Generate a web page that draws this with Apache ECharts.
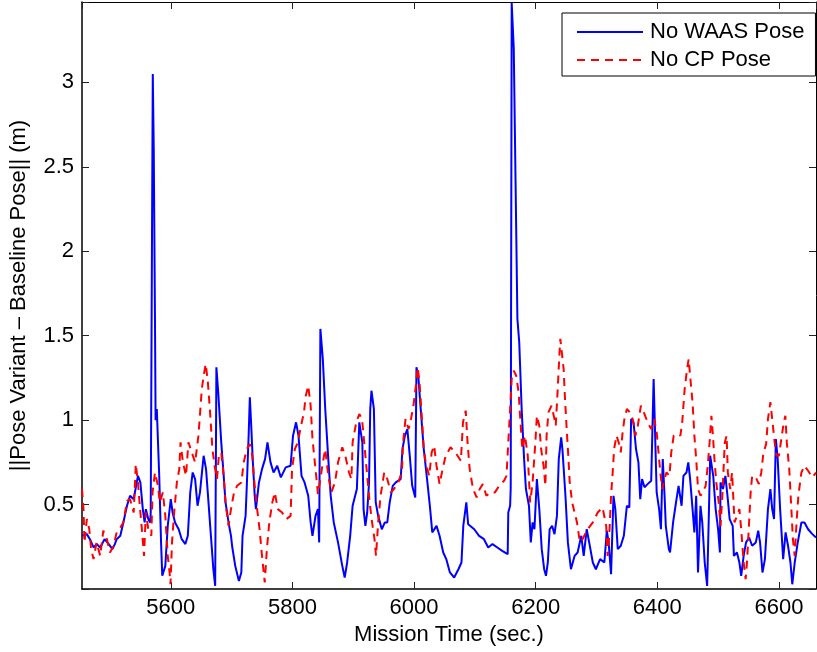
<!DOCTYPE html>
<html>
<head>
<meta charset="utf-8">
<script src="https://cdn.jsdelivr.net/npm/echarts@6/dist/echarts.min.js"></script>
<style>
html,body{margin:0;padding:0;background:#fff;}
#chart{width:817px;height:652px;}
</style>
</head>
<body>
<div id="chart"></div>
<script>
var seriesNames = ['No WAAS Pose', 'No CP Pose'];
var xTitle = 'Mission Time (sec.)';
var yTitle = '||Pose Variant \u2013 Baseline Pose|| (m)';
var xTicks = [5600, 5800, 6000, 6200, 6400, 6600];
var yTicks = [0.5, 1, 1.5, 2, 2.5, 3];

var waasTime = [5454,5462,5467,5473,5478,5484,5491,5498,5504,5508,5511,5517,5522,5528,5533,5539,5546,5550,5554,5557,5559,5563,5566,5567,5569,5570.4,5572,5574,5575,5577,5581,5584,5586,5591,5595,5600,5603,5607,5613,5618,5624,5628,5632,5636,5640,5644,5648,5654,5658,5662,5666,5670,5673,5675,5678,5683,5687,5690,5695,5699,5701,5706,5712,5716,5718,5723,5725,5728,5730,5732,5735,5738,5740,5745,5750,5755,5759,5764,5769,5775,5781,5789,5797,5801,5806,5810,5815,5820,5826,5830,5833,5838,5842,5844,5846,5850,5854,5859,5863,5868,5875,5882,5886,5890,5895,5899,5906,5910,5915,5917,5920,5923,5926,5928,5930,5934,5937,5941,5947,5952,5956,5960,5965,5970,5978,5981,5985,5989,5993,5997,6002,6004,6007,6011,6016,6022,6026,6030,6037,6042,6048,6053,6059,6066,6073,6078,6081,6086,6089,6099,6107,6115,6122,6129,6137,6145,6154,6155,6158,6159,6160.6,6164,6167,6170,6173,6177,6181,6184,6189,6192,6195,6198,6202,6206,6210,6214,6217,6220,6223,6227,6231,6235,6238,6242,6244,6249,6253,6258,6264,6269,6275,6279,6284,6288,6294,6299,6306,6313,6317,6320,6324,6328,6331,6335,6340,6345,6350,6354,6357,6361,6365,6369,6372,6375,6379,6384,6390,6394,6397,6399,6403,6406,6409,6412,6414,6419,6421,6426,6430,6435,6440,6443,6448,6451,6454,6458,6461,6464,6467,6471,6474,6478,6482,6485,6487,6492,6496,6500,6503,6504,6508,6512,6516,6519,6524,6526,6531,6535,6538,6542,6546,6551,6556,6562,6566,6569,6573,6577,6582,6586,6589,6592,6595,6598,6602,6607,6611,6615,6619,6622,6626,6631,6637,6642,6648,6655,6661];
var waasValue = [0.315,0.325,0.295,0.246,0.266,0.246,0.295,0.266,0.236,0.266,0.295,0.315,0.394,0.493,0.552,0.532,0.670,0.631,0.473,0.394,0.473,0.414,0.394,0.45,2.0,3.05,2.6,1.6,1.0,1.066,0.670,0.276,0.078,0.137,0.374,0.532,0.453,0.394,0.354,0.295,0.266,0.315,0.572,0.690,0.651,0.493,0.572,0.789,0.710,0.513,0.315,0.117,0.018,1.313,1.165,0.868,0.670,0.513,0.394,0.315,0.25,0.137,0.048,0.098,0.315,0.433,0.611,0.908,1.135,0.987,0.750,0.552,0.473,0.631,0.710,0.769,0.868,0.750,0.690,0.730,0.661,0.720,0.730,0.908,0.987,0.908,0.670,0.631,0.552,0.394,0.315,0.433,0.473,0.276,1.540,1.362,1.066,0.769,0.552,0.394,0.276,0.137,0.068,0.157,0.315,0.493,0.592,0.987,0.868,0.473,0.374,0.453,0.631,1.066,1.174,1.066,0.513,0.433,0.354,0.394,0.394,0.513,0.611,0.631,0.651,0.829,0.908,0.947,0.789,0.611,0.542,1.313,1.263,1.066,0.829,0.631,0.493,0.335,0.374,0.315,0.216,0.177,0.098,0.068,0.117,0.157,0.374,0.513,0.384,0.354,0.315,0.295,0.246,0.266,0.246,0.226,0.206,0.453,0.493,0.6,3.47,3.2,2.4,1.6,1.461,1.066,0.769,0.592,0.493,0.276,0.394,0.354,0.651,0.473,0.236,0.117,0.078,0.157,0.354,0.374,0.325,0.433,0.769,0.898,0.829,0.552,0.276,0.117,0.196,0.216,0.315,0.196,0.354,0.276,0.157,0.117,0.177,0.157,0.345,0.276,0.088,0.552,0.473,0.236,0.256,0.315,0.493,0.483,1.007,0.987,0.829,0.750,0.532,0.651,0.602,0.621,0.641,1.244,1.234,0.572,0.473,0.354,0.769,0.552,0.374,0.236,0.216,0.394,0.493,0.611,0.493,0.670,0.690,0.750,0.651,0.473,0.335,0.552,0.098,0.493,0.394,0.157,0.018,0.473,0.789,0.670,0.473,0.354,0.216,0.631,0.592,0.670,0.532,0.414,0.374,0.196,0.216,0.157,0.078,0.196,0.276,0.305,0.256,0.276,0.345,0.276,0.098,0.177,0.473,0.592,0.473,0.414,0.888,0.769,0.473,0.177,0.335,0.256,0.157,0.028,0.157,0.276,0.394,0.394,0.354,0.325,0.305];

var cpTime = [5454,5456.5,5458,5462,5466,5469,5473,5478,5484,5489,5495,5500,5506,5511,5517,5522,5528,5533,5539,5542.5,5546,5549.5,5552,5556,5559,5563,5568,5570,5574,5579,5582,5587,5591,5595,5598,5599.5,5602,5606,5610,5614,5616,5620,5625,5629,5634.5,5640,5645.5,5651,5655,5657.5,5661,5665,5668.5,5672,5676,5679,5683,5687,5690,5695,5699,5704,5709,5716,5720,5725,5730,5734,5738,5742,5746,5750,5754.5,5758,5762,5767,5771,5776,5783,5790,5797,5799.4,5804,5809,5813,5819,5822,5826,5830,5833,5838,5842,5846,5850,5854,5859,5864,5870,5875,5882,5887,5893,5897,5899,5905,5910,5914.5,5919,5923,5927,5931,5935,5937.5,5941,5945,5951,5956,5962,5967,5974,5980,5982,5986,5991,5995,5999,6003,6006,6009,6013,6016,6020,6025,6029,6033,6037,6042,6047,6052,6060,6068,6077,6080.5,6085,6088,6091.5,6097,6103,6108,6113,6119,6126,6133,6140,6148,6152,6155,6158,6160.6,6164,6168,6172,6174,6178,6182.5,6187,6191,6195,6199.5,6202,6206,6209,6213,6216,6218,6221,6226,6231,6233,6236,6239,6240.6,6243,6246,6248,6251,6254,6256,6260,6264,6268,6272,6274.5,6280,6285.5,6294,6302,6310,6313,6316,6318.4,6321,6324,6327,6329,6333,6336.5,6340,6343,6346,6350,6355,6359.5,6364,6368,6373,6379,6384,6390,6395,6399,6402,6405,6408,6412,6415,6420,6423,6427,6432,6438,6441,6445,6449,6451.6,6454,6458,6461,6464,6467,6471,6475,6479.5,6483,6486,6489,6491.5,6494,6497,6501,6504,6507,6511,6514,6516,6520,6523,6527,6531,6535,6538,6542,6545.3,6547.5,6551,6553.5,6556,6562,6567,6571,6574,6576.5,6579,6582,6586,6589,6593,6596,6600,6604,6608,6610.6,6613,6617,6620.5,6623,6626,6629,6632,6637,6642,6648,6655,6661];
var cpValue = [0.592,0.473,0.276,0.414,0.354,0.236,0.177,0.276,0.196,0.345,0.295,0.216,0.256,0.335,0.364,0.394,0.522,0.532,0.453,0.740,0.631,0.473,0.374,0.196,0.453,0.354,0.315,0.572,0.690,0.611,0.513,0.572,0.433,0.196,0.098,0.028,0.276,0.473,0.631,0.710,0.868,0.750,0.670,0.868,0.809,0.750,0.908,1.184,1.283,1.333,1.224,1.026,0.829,0.730,0.651,0.789,0.809,0.670,0.513,0.374,0.473,0.572,0.611,0.631,0.750,0.829,0.858,0.789,0.611,0.473,0.354,0.196,0.039,0.236,0.394,0.513,0.572,0.473,0.453,0.414,0.433,0.710,0.829,0.868,0.947,1.046,1.145,1.204,1.085,0.888,0.710,0.562,0.651,0.750,0.829,0.670,0.572,0.631,0.750,0.839,0.789,0.690,0.651,0.868,0.987,1.036,1.007,0.829,0.670,0.513,0.394,0.295,0.196,0.394,0.552,0.690,0.651,0.572,0.592,0.631,0.690,0.868,1.007,0.947,1.007,1.085,1.204,1.313,1.224,1.007,0.829,0.730,0.670,0.809,0.849,0.730,0.621,0.710,0.789,0.839,0.809,0.759,0.987,1.056,0.868,0.710,0.592,0.542,0.592,0.621,0.552,0.572,0.572,0.611,0.641,0.670,0.868,1.066,1.244,1.293,1.263,1.165,1.046,0.829,0.908,0.789,0.513,0.631,0.868,1.026,0.967,0.829,0.730,0.611,0.908,1.046,1.085,1.007,0.967,1.165,1.382,1.481,1.402,1.303,1.145,0.947,0.769,0.631,0.513,0.453,0.394,0.295,0.276,0.315,0.354,0.394,0.453,0.483,0.493,0.374,0.196,0.315,0.552,0.710,0.829,0.908,0.868,0.809,0.928,1.007,1.066,1.046,1.007,0.908,0.967,1.085,1.036,0.987,0.947,1.007,0.928,0.809,0.690,0.592,0.651,0.690,0.670,0.809,0.908,0.918,0.908,0.987,1.184,1.303,1.362,1.263,1.106,0.908,0.769,0.592,0.552,0.572,0.611,0.730,0.868,1.026,0.908,0.769,0.631,0.513,0.374,0.552,0.868,0.908,0.690,0.592,0.690,0.394,0.433,0.473,0.354,0.157,0.058,0.157,0.394,0.572,0.670,0.661,0.621,0.690,0.789,0.829,0.858,1.007,1.106,1.007,0.868,0.789,0.789,0.888,0.987,1.026,0.868,0.710,0.473,0.295,0.196,0.394,0.552,0.690,0.730,0.700,0.661,0.690];

function zip(t, v) { return t.map(function (x, i) { return [x, v[i]]; }); }

var FONT = '"Liberation Sans", Arial, Helvetica, sans-serif';
var chart = echarts.init(document.getElementById('chart'), null, {renderer: 'canvas'});

function xLabel(v) { return xTicks.indexOf(Math.round(v)) >= 0 && Math.abs(v - Math.round(v)) < 1e-6 ? String(Math.round(v)) : ''; }
function yLabel(v) {
  for (var i = 0; i < yTicks.length; i++) { if (Math.abs(v - yTicks[i]) < 1e-6) return String(yTicks[i]); }
  return '';
}

var axisLineStyle = {color: '#000', width: 1.5};
var tickStyle = {color: '#222', width: 1};

chart.setOption({
  animation: false,
  backgroundColor: '#fff',
  grid: {left: 81, right: 1, top: 2, bottom: 63, containLabel: false},
  legend: {
    data: seriesNames,
    orient: 'vertical',
    left: 562, top: 13,
    padding: [8, 11, 5, 14],
    itemGap: 6,
    itemWidth: 66,
    itemHeight: 14,
    backgroundColor: '#fff',
    borderColor: '#000',
    borderWidth: 1,
    borderRadius: 0,
    itemStyle: {color: 'rgba(0,0,0,0)', borderColor: 'rgba(0,0,0,0)', borderWidth: 0, opacity: 0},
    textStyle: {fontFamily: FONT, fontSize: 22, color: '#000', lineHeight: 22, padding: [0, 0, 0, 2]}
  },
  xAxis: [{
    type: 'value', min: 5454, max: 6661, position: 'bottom',
    name: xTitle, nameLocation: 'middle', nameGap: 35,
    nameTextStyle: {fontFamily: FONT, fontSize: 22, color: '#000'},
    axisLine: {show: true, onZero: false, lineStyle: axisLineStyle},
    axisTick: {show: true, inside: true, length: 7, lineStyle: tickStyle},
    axisLabel: {fontFamily: FONT, fontSize: 22, color: '#000', margin: 8, formatter: xLabel, showMinLabel: false, showMaxLabel: false},
    splitLine: {show: false}
  }, {
    type: 'value', min: 5454, max: 6661, position: 'top',
    axisLine: {show: true, onZero: false, lineStyle: {color: '#000', width: 1}},
    axisTick: {show: true, inside: true, length: 7, lineStyle: tickStyle},
    axisLabel: {show: false},
    splitLine: {show: false}
  }],
  yAxis: [{
    type: 'value', min: 0, max: 3.476, interval: 0.5, position: 'left',
    name: yTitle, nameLocation: 'middle', nameGap: 52, nameRotate: 90,
    nameTextStyle: {fontFamily: FONT, fontSize: 22, color: '#000'},
    axisLine: {show: true, onZero: false, lineStyle: axisLineStyle},
    axisTick: {show: true, inside: true, length: 7, lineStyle: tickStyle},
    axisLabel: {fontFamily: FONT, fontSize: 22, color: '#000', margin: 8, formatter: yLabel},
    splitLine: {show: false}
  }, {
    type: 'value', min: 0, max: 3.476, interval: 0.5, position: 'right',
    axisLine: {show: true, onZero: false, lineStyle: {color: '#000', width: 1}},
    axisTick: {show: true, inside: true, length: 7, lineStyle: tickStyle},
    axisLabel: {show: false},
    splitLine: {show: false}
  }],
  series: [{
    name: seriesNames[0], type: 'line', xAxisIndex: 0, yAxisIndex: 0,
    data: zip(waasTime, waasValue),
    symbol: 'none', showSymbol: false, clip: true,
    lineStyle: {color: '#0000ff', width: 2, type: 'solid'},
    itemStyle: {color: '#0000ff'}, z: 2
  }, {
    name: seriesNames[1], type: 'line', xAxisIndex: 0, yAxisIndex: 0,
    data: zip(cpTime, cpValue),
    symbol: 'none', showSymbol: false, clip: true,
    lineStyle: {color: '#ff0000', width: 2, type: [8, 6]},
    itemStyle: {color: '#ff0000'}, z: 3
  }]
});
</script>
</body>
</html>
